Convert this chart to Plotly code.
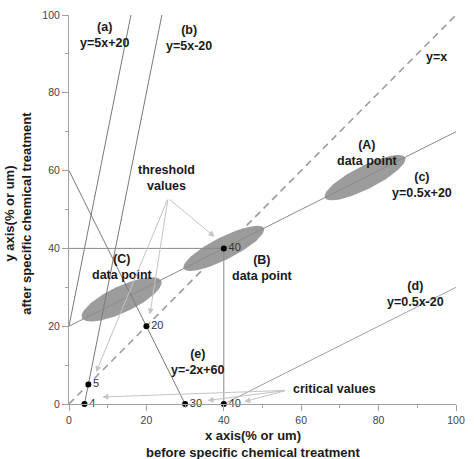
import numpy as np
import plotly.graph_objects as go

# ---- data ----
# equation lines: y = slope * x + intercept, drawn between x_starts and x_ends
line_names = ["(a)", "(b)", "(c)", "(d)", "(e)"]
line_eqs = ["y=5x+20", "y=5x-20", "y=0.5x+20", "y=0.5x-20", "y=-2x+60"]
slopes = [5, 5, 0.5, 0.5, -2]
intercepts = [20, -20, 20, -20, 60]
x_starts = [0, 4, 0, 40, 0]
x_ends = [16, 24, 100, 100, 30]

# identity line
diag_x = [0, 100]
diag_y = [0, 100]

# guide lines through point (40, 40)
guide_h_x = [0, 40]
guide_h_y = [40, 40]
guide_v_x = [40, 40]
guide_v_y = [0, 40]

# key points (threshold / critical values)
pt_x = [4, 5, 20, 30, 40, 40]
pt_y = [0, 5, 20, 0, 0, 40]
pt_labels = ["4", "5", "20", "30", "40", "40"]

# data-point ellipses
ell_names = ["(A)", "(B)", "(C)"]
ell_cx = [76.5, 40.0, 13.6]
ell_cy = [58.2, 40.0, 26.9]
ell_a = [11.6, 11.6, 11.3]
ell_b = [3.0, 2.9, 3.4]
ell_ang = [26.6, 26.6, 25.0]

x_ticks = [0, 20, 40, 60, 80, 100]
y_ticks = [0, 20, 40, 60, 80, 100]

BOLD = dict(family="Liberation Sans, Arial, sans-serif", size=12.5, color="#1a1a1a")
REG = dict(family="Liberation Sans, Arial, sans-serif", size=11, color="#333333")

fig = go.Figure()

# ellipses
t = np.linspace(0, 2 * np.pi, 120)
for cx, cy, a, b, ang in zip(ell_cx, ell_cy, ell_a, ell_b, ell_ang):
    th = np.deg2rad(ang)
    ex = cx + a * np.cos(t) * np.cos(th) - b * np.sin(t) * np.sin(th)
    ey = cy + a * np.cos(t) * np.sin(th) + b * np.sin(t) * np.cos(th)
    fig.add_trace(go.Scatter(x=ex, y=ey, mode="lines", fill="toself",
                             fillcolor="#9c9c9c", line=dict(width=0, color="#9c9c9c"),
                             hoverinfo="skip", showlegend=False))

# dashed y=x
fig.add_trace(go.Scatter(x=diag_x, y=diag_y, mode="lines",
                         line=dict(color="#9a9a9a", width=1.6, dash="7px,5px"),
                         showlegend=False, hoverinfo="skip"))

# equation lines
line_colors = ["#7a7a7a", "#7a7a7a", "#8a8a8a", "#a0a0a0", "#7a7a7a"]
for s, c, x0, x1, col in zip(slopes, intercepts, x_starts, x_ends, line_colors):
    xs = [x0, x1]
    ys = [s * x + c for x in xs]
    fig.add_trace(go.Scatter(x=xs, y=ys, mode="lines", line=dict(color=col, width=1),
                             showlegend=False, hoverinfo="skip"))

# guide lines
for gx, gy in [(guide_h_x, guide_h_y), (guide_v_x, guide_v_y)]:
    fig.add_trace(go.Scatter(x=gx, y=gy, mode="lines", line=dict(color="#8a8a8a", width=1),
                             showlegend=False, hoverinfo="skip"))

# points
fig.add_trace(go.Scatter(x=pt_x, y=pt_y, mode="markers+text", text=pt_labels,
                         textposition="middle right", textfont=REG,
                         marker=dict(color="black", size=6), cliponaxis=False,
                         showlegend=False, hoverinfo="skip"))

ann = []
def label(x, y, lines):
    txt = "<br>".join("<b>" + s + "</b>" for s in lines)
    ann.append(dict(x=x, y=y, xref="x", yref="y", text=txt,
                    showarrow=False, font=BOLD, xanchor="center", yanchor="middle"))

# equation labels
label(9.2, 94.9, [line_names[0], line_eqs[0]])
label(30.9, 94.1, [line_names[1], line_eqs[1]])
label(91.1, 56.3, [line_names[2], line_eqs[2]])
label(89.6, 28.3, [line_names[3], line_eqs[3]])
label(33.3, 10.9, [line_names[4], line_eqs[4]])
label(94.9, 89.1, ["y=x"])
# data point labels
label(77.2, 64.4, [ell_names[0], "data point"])
label(50.0, 35.0, [ell_names[1], "data point"])
label(13.7, 35.1, [ell_names[2], "data point"])
label(25.1, 58.2, ["threshold", "values"])
label(68.6, 3.8, ["critical values"])

# arrows
ARROW = "#c4c4c4"
thr_tail = (25.6, 52.9)
thr_tips = [(37.6, 43.0), (20.9, 23.0), (7.0, 8.2)]
crit_tail = (56.2, 3.5)
crit_tips = [(8.6, 1.8), (35.8, 0.9), (45.3, 0.6)]
for tail, tips in [(thr_tail, thr_tips), (crit_tail, crit_tips)]:
    for tx, ty in tips:
        ann.append(dict(x=tx, y=ty, ax=tail[0], ay=tail[1], xref="x", yref="y",
                        axref="x", ayref="y", text="", showarrow=True,
                        arrowhead=2, arrowsize=1.2, arrowwidth=1, arrowcolor=ARROW))

# axis titles
TITLE = dict(BOLD, size=13)
ann.append(dict(x=0.478, y=-0.104, xref="paper", yref="paper",
                text="<b>x axis(% or um)</b><br><b>before specific chemical treatment</b>",
                showarrow=False, font=TITLE, xanchor="center", yanchor="middle"))
ann.append(dict(x=-0.131, y=0.49, xref="paper", yref="paper",
                text="<b>y axis(% or um)</b><br><b>after specific chemical treatment</b>",
                showarrow=False, font=TITLE, textangle=-90,
                xanchor="center", yanchor="middle"))

axis_common = dict(showgrid=False, zeroline=False, showline=True, linecolor="#a0a0a0",
                   linewidth=1, ticks="outside", ticklen=6, tickcolor="#a0a0a0",
                   tickfont=dict(family="Liberation Sans, Arial, sans-serif", size=10.5,
                                 color="#444444"),
                   minor=dict(ticks="outside", ticklen=3, dtick=10, tickcolor="#a0a0a0"),
                   range=[0, 100], fixedrange=True)

fig.update_layout(
    width=474, height=459,
    margin=dict(l=69, r=10, t=9, b=55),
    paper_bgcolor="white", plot_bgcolor="white",
    xaxis=dict(tickvals=x_ticks, **axis_common),
    yaxis=dict(tickvals=y_ticks, **axis_common),
    annotations=ann,
    showlegend=False,
)

fig.write_html("out.html")
